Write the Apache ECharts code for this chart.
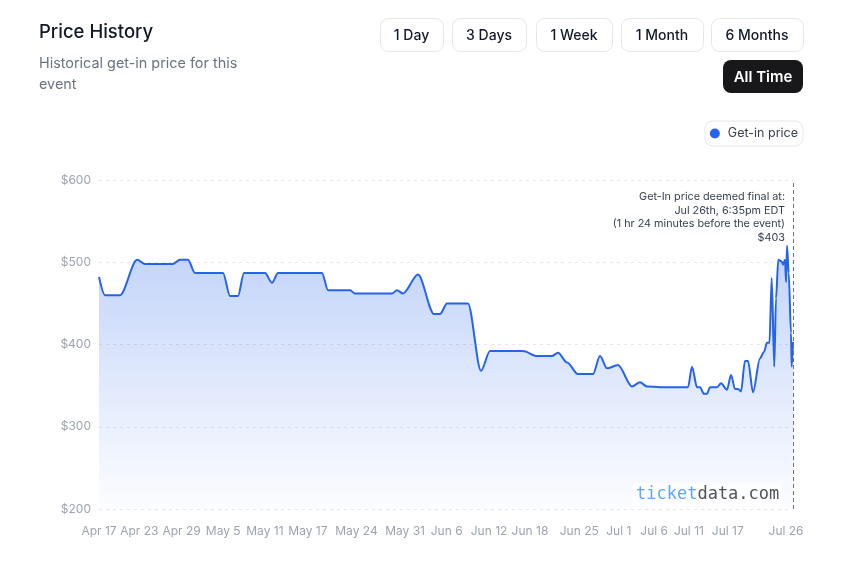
<!DOCTYPE html>
<html>
<head>
<meta charset="utf-8">
<title>Price History</title>
<script src="https://cdn.jsdelivr.net/npm/echarts@6/dist/echarts.min.js"></script>
<style>
  html, body { margin: 0; padding: 0; background: #fff; }
  #chart { width: 847px; height: 574px; }
</style>
</head>
<body>
<div id="chart"></div>
<script>
// days since Apr 17
var days = [0, 0.86, 3.03, 5.48, 6.63, 10.66, 11.67, 12.82, 13.83, 17.87, 18.88, 20.03, 20.89,
  23.92, 24.93, 25.79, 32.13, 33.0, 36.17, 36.89, 42.22, 42.94, 43.8, 45.97, 48.27, 49.14,
  50.14, 53.17, 55.04, 56.34, 61.1, 63.11, 65.27, 66.14, 67.44, 69.02, 71.18, 72.19, 73.2,
  74.78, 76.8, 77.95, 78.96, 80.84, 84.87, 85.45, 86.17, 86.6, 87.18, 87.61, 88.04, 89.05,
  89.63, 90.49, 91.07, 91.64, 92.07, 92.51, 93.08, 93.52, 94.24, 95.24, 95.82, 96.25, 96.61,
  96.93, 97.3, 97.55, 97.88, 98.37, 98.56, 98.85, 99.0, 99.14, 99.38, 99.71, 99.81, 100];
var prices = [482, 460, 460, 503, 498, 498, 503, 503, 487, 487, 459, 459, 487,
  487, 475, 487, 487, 466, 466, 462, 462, 466, 462, 485, 437, 437,
  450, 450, 368, 392, 392, 386, 386, 390, 378, 364, 364, 386, 371,
  375, 349, 354, 349, 348, 348, 373, 348, 348, 340, 340, 348, 348,
  353, 345, 363, 346, 346, 343, 380, 380, 342, 383, 391, 402, 402,
  481, 373, 456, 503, 501, 497, 503, 476, 520, 487, 414, 373, 403];

var tickDays = [0, 5.8, 11.9, 17.9, 23.9, 30.1, 37.1, 44.1, 50.1, 56.2, 62.1, 69.2, 74.9, 80, 85, 90.6, 99];
var tickLabels = ['Apr 17', 'Apr 23', 'Apr 29', 'May 5', 'May 11', 'May 17', 'May 24', 'May 31',
  'Jun 6', 'Jun 12', 'Jun 18', 'Jun 25', 'Jul 1', 'Jul 6', 'Jul 11', 'Jul 17', 'Jul 26'];

var finalDay = 100;
var finalNote = ['Get-In price deemed final at:', 'Jul 26th, 6:35pm EDT',
  '(1 hr 24 minutes before the event)', '$403'];
var ranges = ['1 Day', '3 Days', '1 Week', '1 Month', '6 Months'];

var FONT = 'Inter, "Noto Sans", sans-serif';
var chart = echarts.init(document.getElementById('chart'));

var labelFor = {};
for (var i = 0; i < tickDays.length; i++) labelFor[tickDays[i]] = tickLabels[i];

var seriesData = days.map(function (d, i) { return [d, prices[i]]; });

// range buttons on top right
var btnBox = [[380, 63], [452, 74], [536, 76], [621, 82], [711, 92]];
var graphics = [
  { type: 'text', left: 39, top: 23,
    style: { text: 'Price History', font: '500 18.5px ' + FONT, fill: '#111827' } },
  { type: 'text', left: 39, top: 53,
    style: { text: 'Historical get-in price for this\nevent', font: '14.4px ' + FONT,
      fill: '#6b7280', lineHeight: 21 } }
];
ranges.forEach(function (r, i) {
  var b = btnBox[i];
  graphics.push({ type: 'rect', shape: { x: b[0] + 0.5, y: 18.5, width: b[1], height: 33, r: 8 },
    style: { fill: '#fff', stroke: '#e5e7eb', lineWidth: 1 } });
  graphics.push({ type: 'text', x: b[0] + b[1] / 2, y: 35.5,
    style: { text: r, font: '500 14px ' + FONT, fill: '#111827', align: 'center', verticalAlign: 'middle' } });
});
graphics.push({ type: 'rect', shape: { x: 723, y: 60, width: 80, height: 33, r: 8 },
  style: { fill: '#18181b' } });
graphics.push({ type: 'text', x: 763, y: 77.5,
  style: { text: 'All Time', font: '600 15px ' + FONT, fill: '#fff', align: 'center', verticalAlign: 'middle' } });

// final price note
graphics.push({ type: 'text', x: 785, y: 190, z: 10,
  style: { text: finalNote.join('\n'), font: '10.8px ' + FONT, fill: '#374151',
    align: 'right', verticalAlign: 'top', lineHeight: 13.7 } });

// watermark
graphics.push({ type: 'rect', shape: { x: 632, y: 483, width: 150, height: 24, r: 4 }, z: 10,
  style: { fill: 'rgba(255,255,255,0.7)' } });
graphics.push({ type: 'text', x: 636, y: 495, z: 11,
  style: { text: '{a|ticket}{b|data.com}', verticalAlign: 'middle',
    rich: {
      a: { fill: '#60a5fa', font: '17px "DejaVu Sans Mono", monospace' },
      b: { fill: '#52525b', font: '17px "DejaVu Sans Mono", monospace' }
    } } });

var option = {
  animation: false,
  backgroundColor: '#fff',
  textStyle: { fontFamily: FONT },
  grid: { left: 99, right: 54, top: 180, bottom: 65 },
  legend: {
    right: 44, top: 121,
    icon: 'circle', itemWidth: 10, itemHeight: 10,
    padding: [6, 5, 6, 5],
    borderColor: '#e5e7eb', borderWidth: 1, borderRadius: 8,
    textStyle: { color: '#374151', fontSize: 12.5, fontFamily: FONT, padding: [0, 0, 0, 3] },
    data: ['Get-in price']
  },
  xAxis: {
    type: 'value', min: 0, max: finalDay,
    axisLine: { show: false }, axisTick: { show: false }, splitLine: { show: false },
    axisLabel: {
      customValues: tickDays,
      formatter: function (v) { return labelFor[v] || ''; },
      color: '#9ca3af', fontSize: 12, margin: 16, fontFamily: FONT
    }
  },
  yAxis: {
    type: 'value', min: 200, max: 600, interval: 100,
    axisLine: { show: false }, axisTick: { show: false },
    axisLabel: { formatter: '${value}', color: '#9ca3af', fontSize: 12, margin: 8, fontFamily: FONT },
    splitLine: { lineStyle: { type: [3, 4], color: '#e5e7eb' } }
  },
  series: [{
    name: 'Get-in price',
    type: 'line',
    data: seriesData,
    showSymbol: false,
    smooth: 0.3,
    smoothMonotone: 'x',
    color: '#2563eb',
    lineStyle: { width: 2, color: '#2563eb' },
    areaStyle: {
      color: new echarts.graphic.LinearGradient(0, 0, 0, 1, [
        { offset: 0, color: 'rgba(37,99,235,0.4)' },
        { offset: 1, color: 'rgba(37,99,235,0.02)' }
      ])
    },
    markLine: {
      silent: true, symbol: 'none', label: { show: false },
      lineStyle: { type: [4, 3], color: '#6b7280', width: 1 },
      data: [{ xAxis: finalDay }]
    }
  }],
  graphic: graphics
};
chart.setOption(option);
</script>
</body>
</html>
